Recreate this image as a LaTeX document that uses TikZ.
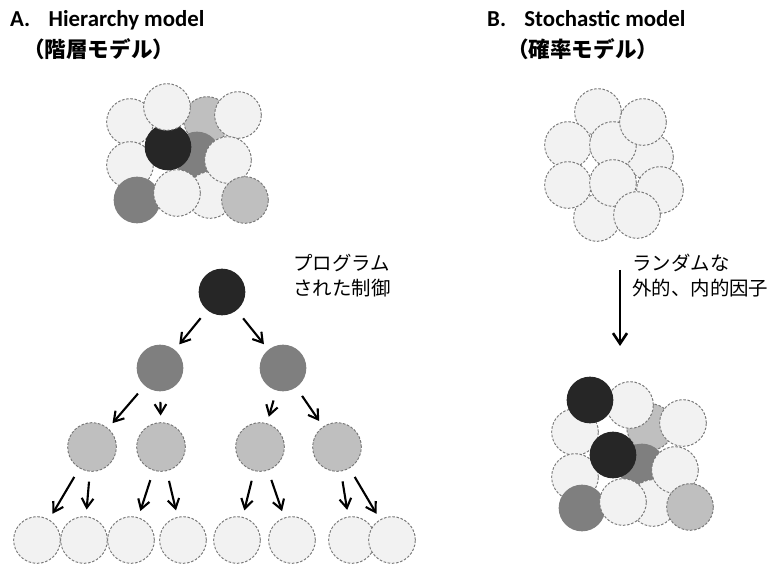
\documentclass[tikz,border=0pt]{standalone}
\usepackage{fontspec}
\setmainfont{Carlito}
\newfontfamily\jpfont{Noto Sans CJK JP}
\usetikzlibrary{positioning,arrows.meta}
\definecolor{ballblack}{HTML}{262626}
\definecolor{balldark}{HTML}{7F7F7F}
\definecolor{ballmid}{HTML}{BFBFBF}
\definecolor{ballpale}{HTML}{F2F2F2}
\definecolor{rimgray}{HTML}{777777}
\tikzset{
  ball/.style={circle, inner sep=0pt, minimum size=1.4cm, draw=rimgray, dash pattern=on 2.2pt off 1.4pt, line width=0.8pt},
  pball/.style={ball, fill=ballpale},
  mball/.style={ball, fill=ballmid},
  dball/.style={ball, fill=balldark, draw=none},
  kball/.style={ball, fill=ballblack, draw=none},
  wide/.style={minimum size=1.46cm},
  arr/.style={-{Straight Barb[length=8pt,width=10pt]}, line width=1.8pt, shorten <=0.3cm, shorten >=0.2cm},
  ttl/.style={inner sep=0pt, anchor=base west, font=\fontsize{19.5}{24}\selectfont\bfseries},
  jp/.style={inner sep=0pt, anchor=base west, font=\fontsize{18.4}{22}\selectfont\jpfont\bfseries},
  note/.style={inner sep=0pt, anchor=base west, align=left, font=\fontsize{16.6}{22}\selectfont\jpfont}
}
\begin{document}
\begin{tikzpicture}[x=0.03cm, y=-0.03cm]
  \useasboundingbox (0,0) rectangle (778,567);
  % titles
  \node[ttl] (tA) at (10,27) {A.\hspace{0.8em}Hierarchy model};
  \node[jp] (jA) at (23,58) {（階層モデル）};
  \node[ttl] (tB) at (487,27) {B.\hspace{0.8em}Stochastic model};
  \node[jp] (jB) at (507,58) {（確率モデル）};
  %
  % A: packed cells
  \node[mball] (a1) at (207,120) {};
  \node[dball] (a2) at (197,155) {};
  \node[pball] (a3) at (210,195) {};
  \node[pball] (a4) at (130,122) {};
  \node[pball] (a5) at (238,115) {};
  \node[pball] (a6) at (228,160) {};
  \node[pball] (a7) at (130,165) {};
  \node[kball] (a8) at (168,147) {};
  \node[pball] (a9) at (167,107) {};
  \node[dball] (a10) at (137,200) {};
  \node[pball] (a11) at (177,193) {};
  \node[mball] (a12) at (245,200) {};
  %
  % A: lineage tree
  \node[kball] (root) at (222,292) {};
  \node[dball] (m1) at (160,368) {};
  \node[dball] (m2) at (283,368) {};
  \node[mball, wide] (s1) at (92,447) {};
  \node[mball, wide] (s2) at (161,447) {};
  \node[mball, wide] (s3) at (260,447) {};
  \node[mball, wide] (s4) at (337,447) {};
  \node[pball] (t1) at (37,540) {};
  \node[pball] (t2) at (84,540) {};
  \node[pball] (t3) at (131,540) {};
  \node[pball] (t4) at (183,540) {};
  \node[pball] (t5) at (237,540) {};
  \node[pball] (t6) at (292,540) {};
  \node[pball] (t7) at (352,540) {};
  \node[pball] (t8) at (392,540) {};
  \node[note] (prog) at (293,296) {プログラム\\された制御};
  %
  \draw[arr] (root) -- (m1);
  \draw[arr] (root) -- (m2);
  \draw[arr] (m1) -- (s1);
  \draw[arr] (m1) -- (s2);
  \draw[arr] (m2) -- (s3);
  \draw[arr] (m2) -- (s4);
  \draw[arr] (s1) -- (t1);
  \draw[arr] (s1) -- (t2);
  \draw[arr] (s2) -- (t3);
  \draw[arr] (s2) -- (t4);
  \draw[arr] (s3) -- (t5);
  \draw[arr] (s3) -- (t6);
  \draw[arr] (s4) -- (t7);
  \draw[arr] (s4) -- (t8);
  %
  % B: uniform cells
  \node[pball] (b1) at (650,157) {};
  \node[pball] (b2) at (598,112) {};
  \node[pball] (b3) at (660,190) {};
  \node[pball] (b4) at (597,218) {};
  \node[pball] (b5) at (568,145) {};
  \node[pball] (b6) at (613,145) {};
  \node[pball] (b7) at (643,122) {};
  \node[pball] (b8) at (568,185) {};
  \node[pball] (b9) at (613,183) {};
  \node[pball] (b10) at (637,215) {};
  %
  \coordinate (rs) at (620,270);
  \coordinate (re) at (620,346);
  \draw[-{Straight Barb[length=9pt,width=12pt]}, line width=2.2pt] (rs) -- (re);
  \node[note] (rand) at (632,296) {ランダムな\\外的、内的因子};
  %
  % B: cells after random factors
  \node[mball] (c1) at (650,427) {};
  \node[dball] (c2) at (642,467) {};
  \node[pball] (c3) at (653,503) {};
  \node[pball] (c4) at (575,432) {};
  \node[pball] (c5) at (683,423) {};
  \node[pball] (c6) at (675,470) {};
  \node[pball] (c7) at (575,477) {};
  \node[kball] (c8) at (613,455) {};
  \node[pball] (c9) at (630,405) {};
  \node[kball] (c10) at (590,400) {};
  \node[dball] (c11) at (582,508) {};
  \node[pball] (c12) at (623,502) {};
  \node[mball] (c13) at (690,507) {};
\end{tikzpicture}
\end{document}
